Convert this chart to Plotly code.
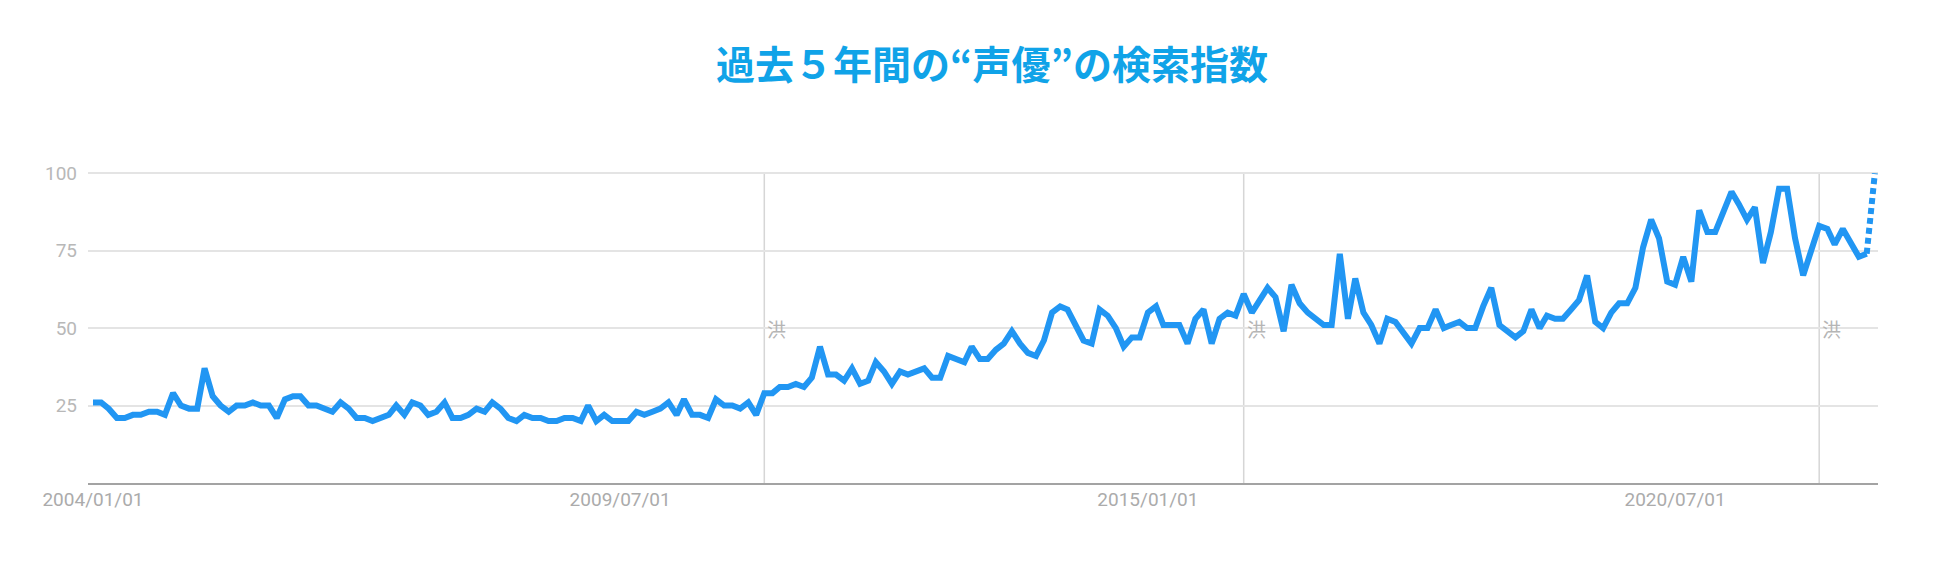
import pandas as pd
import plotly.graph_objects as go

# Monthly search index (Google Trends style), 2004-01 .. 2022-08
v2004 = [26, 26, 24, 21, 21, 22, 22, 23, 23, 22, 29, 25]
v2005 = [24, 24, 37, 28, 25, 23, 25, 25, 26, 25, 25, 21]
v2006 = [27, 28, 28, 25, 25, 24, 23, 26, 24, 21, 21, 20]
v2007 = [21, 22, 25, 22, 26, 25, 22, 23, 26, 21, 21, 22]
v2008 = [24, 23, 26, 24, 21, 20, 22, 21, 21, 20, 20, 21]
v2009 = [21, 20, 25, 20, 22, 20, 20, 20, 23, 22, 23, 24]
v2010 = [26, 22, 27, 22, 22, 21, 27, 25, 25, 24, 26, 22]
v2011 = [29, 29, 31, 31, 32, 31, 34, 44, 35, 35, 33, 37]
v2012 = [32, 33, 39, 36, 32, 36, 35, 36, 37, 34, 34, 41]
v2013 = [40, 39, 44, 40, 40, 43, 45, 49, 45, 42, 41, 46]
v2014 = [55, 57, 56, 51, 46, 45, 56, 54, 50, 44, 47, 47]
v2015 = [55, 57, 51, 51, 51, 45, 53, 56, 45, 53, 55, 54]
v2016 = [61, 55, 59, 63, 60, 49, 64, 58, 55, 53, 51, 51]
v2017 = [74, 53, 66, 55, 51, 45, 53, 52, 48, 45, 50, 50]
v2018 = [56, 50, 51, 52, 50, 50, 57, 63, 51, 49, 47, 49]
v2019 = [56, 50, 54, 53, 53, 56, 59, 67, 52, 50, 55, 58]
v2020 = [58, 63, 76, 85, 79, 65, 64, 73, 65, 88, 81, 81]
v2021 = [87, 94, 90, 85, 89, 71, 81, 95, 95, 79, 67, 75]
v2022 = [83, 82, 77, 82, 78, 73, 74]
partial_value = 100  # 2022-08 (incomplete month, dotted)

values = (v2004 + v2005 + v2006 + v2007 + v2008 + v2009 + v2010 + v2011 + v2012
          + v2013 + v2014 + v2015 + v2016 + v2017 + v2018 + v2019 + v2020 + v2021 + v2022)
dates = pd.date_range("2004-01-01", periods=len(values), freq="MS")
partial_date = dates[-1] + pd.offsets.MonthBegin(1)

tick_vals = ["2004-01-01", "2009-07-01", "2015-01-01", "2020-07-01"]
tick_text = ["2004/01/01", "2009/07/01", "2015/01/01", "2020/07/01"]
note_dates = ["2011-01-01", "2016-01-01", "2022-01-01"]
note_text = "洪"
y_ticks = [0, 25, 50, 75, 100]
y_tick_text = ["", "25", "50", "75", "100"]

title = "過去５年間の“声優”の検索指数"
line_color = "#2196F3"

W, H = 1918, 564  # page body has an 8px margin

fig = go.Figure()
fig.add_trace(go.Scatter(x=dates, y=values, mode="lines",
                         line=dict(color=line_color, width=6), hoverinfo="skip"))
fig.add_trace(go.Scatter(x=[dates[-1], partial_date], y=[values[-1], partial_value], mode="lines",
                         line=dict(color=line_color, width=6, dash="6px,4px"), hoverinfo="skip"))

for d in note_dates:
    fig.add_shape(type="line", xref="x", yref="y", x0=d, x1=d, y0=0, y1=100,
                  line=dict(color="#d6d6d6", width=1.5), layer="below")
    fig.add_annotation(x=d, y=50, xref="x", yref="y", text=note_text, showarrow=False,
                       xanchor="left", yanchor="middle", xshift=1,
                       font=dict(family="Noto Sans CJK JP", size=19, color="#b5b5b5"))

fig.update_layout(
    width=W, height=H,
    paper_bgcolor="white", plot_bgcolor="white",
    showlegend=False,
    margin=dict(l=80, r=48, t=159, b=89),
    title=dict(text=title, x=(992 - 8) / W, xref="container", xanchor="center",
               y=1 - (65 - 8) / H, yref="container", yanchor="middle",
               font=dict(family="Noto Sans CJK JP", size=39, color="#10a3e8", weight="bold")),
    xaxis=dict(
        type="date",
        range=["2003-12-13", "2022-08-13"],
        tickvals=tick_vals, ticktext=tick_text,
        showgrid=False, zeroline=False,
        showline=True, linecolor="#a3a3a3", linewidth=1.5,
        ticks="", ticklabelstandoff=-2,
        tickfont=dict(family="Roboto", size=19, color="#ababab"),
    ),
    yaxis=dict(
        range=[0, 102],
        tickvals=y_ticks, ticktext=y_tick_text,
        showgrid=True, gridcolor="#e4e4e4", gridwidth=1.5,
        zeroline=False, showline=False,
        ticks="", ticklabelstandoff=10,
        tickfont=dict(family="Roboto", size=19, color="#b8b8b8"),
    ),
)

fig.write_html("out.html")
